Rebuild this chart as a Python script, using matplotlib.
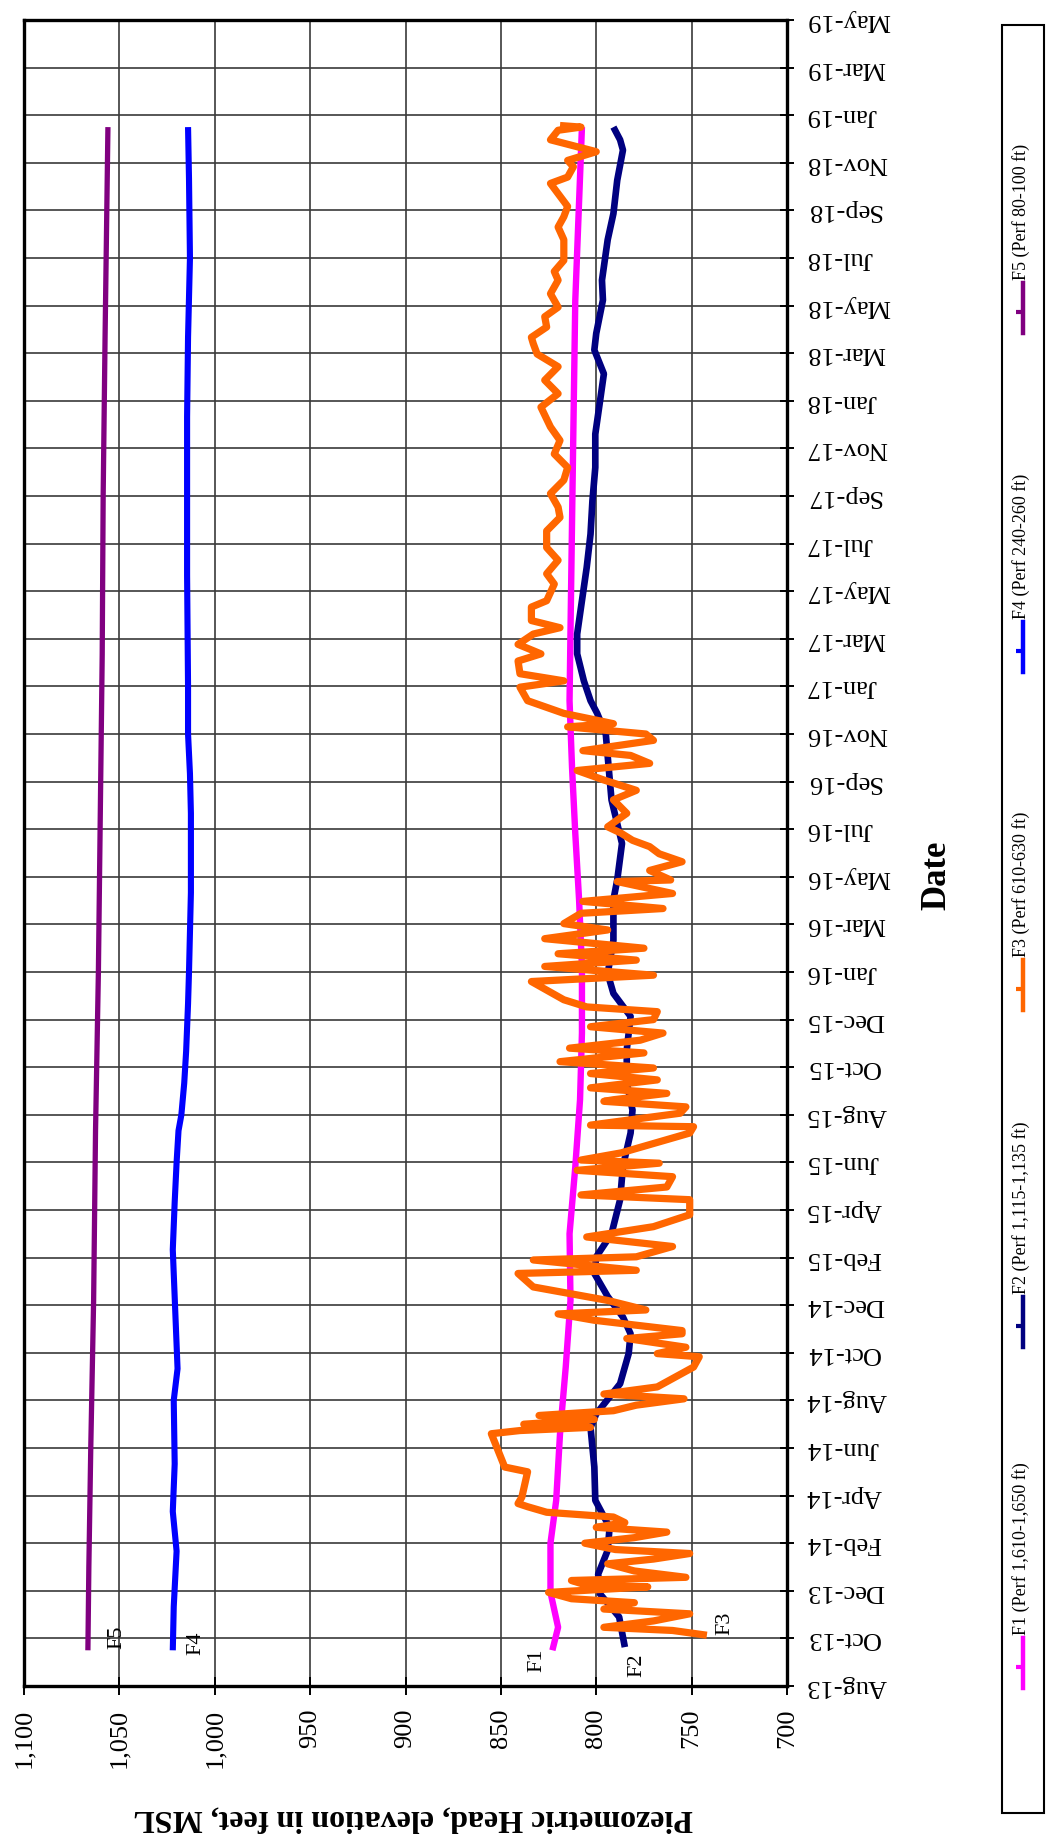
import matplotlib
matplotlib.use("Agg")
import matplotlib.pyplot as plt
from matplotlib.lines import Line2D
from matplotlib.patches import Rectangle

plt.rcParams['font.family'] = ['Liberation Serif', 'DejaVu Serif']

# ---------------- data ----------------
# time axis: days after 13-Aug-2013, one tick every 60 days
date_tick_labels = ["Aug-13", "Oct-13", "Dec-13", "Feb-14", "Apr-14", "Jun-14", "Aug-14",
                    "Oct-14", "Dec-14", "Feb-15", "Apr-15", "Jun-15", "Aug-15", "Oct-15",
                    "Dec-15", "Jan-16", "Mar-16", "May-16", "Jul-16", "Sep-16", "Nov-16",
                    "Jan-17", "Mar-17", "May-17", "Jul-17", "Sep-17", "Nov-17", "Jan-18",
                    "Mar-18", "May-18", "Jul-18", "Sep-18", "Nov-18", "Jan-19", "Mar-19",
                    "May-19"]
date_tick_days = [60 * i for i in range(len(date_tick_labels))]
elev_ticks = [1100, 1050, 1000, 950, 900, 850, 800, 750, 700]
elev_tick_labels = ["1,100", "1,050", "1,000", "950", "900", "850", "800", "750", "700"]

series_names = ["F1 (Perf 1,610-1,650 ft)", "F2 (Perf 1,115-1,135 ft)",
                "F3 (Perf 610-630 ft)", "F4 (Perf 240-260 ft)", "F5 (Perf 80-100 ft)"]
series_short = ["F1", "F2", "F3", "F4", "F5"]
series_colors = ["#FF00FF", "#000080", "#FF6600", "#0000FF", "#800080"]

f1_days = [45, 74, 118, 180, 234, 318, 402, 486, 570, 654, 739, 823, 907, 991, 1075,
           1158, 1242, 1330, 1500, 1746, 1965]
f1_vals = [823, 820, 824, 824, 821, 819, 816, 813.5, 814, 811, 808.5, 807.5, 807.5, 809,
           811, 812.7, 814, 813.5, 812.5, 811, 807.5]

f2_days = [49, 87, 116, 141, 171, 200, 234, 276, 326, 343, 381, 419, 444, 465, 491, 520,
           541, 570, 613, 655, 697, 726, 760, 802, 844, 873, 898, 940, 991, 1016, 1062,
           1117, 1158, 1200, 1226, 1242, 1267, 1301, 1326, 1368, 1410, 1452, 1494, 1536,
           1578, 1620, 1654, 1684, 1705, 1747, 1772, 1823, 1856, 1898, 1936, 1949, 1965]
f2_vals = [785, 788, 798, 799, 794, 793, 800.5, 801, 803, 800, 787.5, 783, 782, 786, 794,
           801, 800, 792, 787.5, 786, 782, 781, 784, 784, 782, 791, 794, 791, 791, 789,
           786.5, 792, 793.5, 795, 799.5, 803, 806.5, 810, 810, 807.5, 805, 803, 802,
           800.5, 800.5, 798, 796, 801, 800, 796.5, 797, 794, 791, 789, 786, 787.5, 791]

f3_days = [64, 70, 74, 82, 91, 97, 105, 110, 118, 125, 127, 133, 137, 145, 154, 160, 167,
           172, 180, 187, 194, 200, 206, 213, 219, 226, 230, 238, 270, 276, 300, 318, 322,
           326, 330, 336, 341, 347, 354, 362, 368, 377, 402, 415, 419, 427, 438, 444, 448,
           461, 469, 474, 486, 503, 520, 524, 537, 541, 554, 566, 579, 594, 613, 619, 629,
           642, 650, 659, 663, 672, 697, 705, 707, 722, 730, 737, 739, 747, 754, 764, 772,
           779, 787, 798, 804, 814, 823, 831, 840, 850, 856, 865, 888, 896, 907, 915, 923,
           930, 942, 953, 961, 974, 980, 989, 999, 1014, 1016, 1028, 1039, 1049, 1058,
           1066, 1075, 1083, 1100, 1117, 1129, 1142, 1154, 1163, 1173, 1179, 1192, 1200,
           1209, 1213, 1226, 1242, 1259, 1267, 1276, 1292, 1301, 1313, 1326, 1334, 1343,
           1360, 1368, 1389, 1402, 1419, 1435, 1456, 1473, 1486, 1503, 1520, 1536, 1553,
           1570, 1587, 1612, 1629, 1646, 1663, 1679, 1692, 1700, 1713, 1726, 1738, 1755,
           1772, 1783, 1797, 1823, 1839, 1852, 1865, 1881, 1894, 1902, 1915, 1923, 1934,
           1949, 1961, 1965, 1967]
f3_vals = [742, 760, 796, 770, 751, 796, 780, 813, 825, 773, 805, 813, 753, 780, 794, 770,
           751, 790, 806, 780, 763, 800, 785, 791, 826, 836, 841, 839, 836, 848, 852, 855,
           840, 803, 838, 801, 830, 791, 779, 754, 796, 768, 749, 746, 768, 753, 784, 755,
           755, 801, 820, 774, 794, 833, 841, 779, 833, 779, 760, 805, 770, 751, 751, 808,
           763, 760, 810, 767, 808, 787, 751, 749, 803, 756, 753, 796, 791, 763, 803, 768,
           803, 770, 819, 775, 814, 777, 765, 803, 770, 768, 805, 817, 834, 770, 827, 779,
           820, 775, 827, 794, 817, 808, 765, 807, 760, 789, 761, 772, 755, 767, 772, 781,
           787, 794, 784, 791, 779, 796, 810, 772, 782, 807, 770, 774, 815, 791, 817, 836,
           840, 817, 840, 841, 829, 841, 833, 819, 834, 834, 826, 822, 826, 820, 826, 826,
           819, 820, 824, 817, 815, 822, 819, 824, 829, 820, 827, 820, 831, 833, 834, 826,
           827, 820, 824, 820, 822, 817, 817, 820, 817, 815, 820, 824, 815, 812, 815, 800,
           824, 820, 808, 819]

f4_days = [45, 100, 170, 220, 280, 360, 400, 430, 490, 550, 610, 660, 700, 720, 760, 800,
           860, 900, 1000, 1100, 1150, 1200, 1260, 1400, 1600, 1700, 1800, 1900, 1965]
f4_vals = [1022, 1021.5, 1020, 1022, 1021, 1021.5, 1019.5, 1020, 1021, 1022, 1021, 1020,
           1019, 1017.5, 1016, 1015, 1014, 1013.5, 1012.5, 1012.5, 1013, 1014, 1014,
           1014.5, 1014.5, 1014, 1013, 1013.5, 1014]

f5_days = [45, 150, 300, 486, 700, 900, 1100, 1300, 1500, 1700, 1965]
f5_vals = [1066.5, 1066, 1065, 1063.5, 1062.5, 1061, 1060, 1059, 1058.5, 1057.5, 1056]

series_days = [f1_days, f2_days, f3_days, f4_days, f5_days]
series_vals = [f1_vals, f2_vals, f3_vals, f4_vals, f5_vals]

# ---------------- figure ----------------
W, H = 1047, 1839
fig = plt.figure(figsize=(W / 100, H / 100), dpi=100)

def fx(px):
    return px / W

def fy(py):
    return 1 - py / H

ax_l, ax_r, ax_t, ax_b = 24, 787, 20, 1686
ax = fig.add_axes([fx(ax_l), fy(ax_b), fx(ax_r - ax_l), (ax_b - ax_t) / H])

widths = [4.6, 4.8, 5.2, 4.4, 3.8]
for d, v, c, lw in zip(series_days, series_vals, series_colors, widths):
    ax.plot(v, d, color=c, lw=lw, solid_joinstyle='round', solid_capstyle='butt', zorder=3)

ax.set_xlim(1100, 700)
ax.set_ylim(0, 2100)
ax.set_xticks(elev_ticks)
ax.set_xticklabels(elev_tick_labels, rotation=90, va='top', ha='center')
ax.set_yticks(date_tick_days)
ax.yaxis.tick_right()
ax.set_yticklabels(date_tick_labels, rotation=180, va='center', ha='left')

ax.tick_params(axis='x', direction='inout', length=13, width=1.4, pad=10, labelsize=19)
ax.tick_params(axis='y', direction='inout', length=10, width=1.4, pad=9, labelsize=19,
               right=True, left=False)
ax.grid(True, color='#3a3a3a', lw=1.2, zorder=1)
for s in ax.spines.values():
    s.set_linewidth(2.4)
    s.set_color('black')

# series labels next to starting points
label_pos = {"F1": (537, 1660), "F2": (637, 1665), "F3": (725, 1623),
             "F4": (196, 1643), "F5": (117, 1637)}
for name in series_short:
    x, y = label_pos[name]
    fig.text(fx(x), fy(y), name, rotation=90, ha='center', va='center', fontsize=16)

# axis titles
fig.text(fx(413), fy(1818), "Piezometric Head, elevation in feet, MSL", rotation=180,
         ha='center', va='center', fontsize=23, fontweight='bold')
fig.text(fx(937), fy(875), "Date", rotation=90, ha='center', va='center',
         fontsize=25, fontweight='bold')

# legend (rotated)
fig.patches.append(Rectangle((fx(1002), fy(1813)), fx(1044 - 1002), (1813 - 25) / H,
                             transform=fig.transFigure, fill=False, ec='black', lw=1.5))
leg_centers = [1663, 1322, 985, 647, 308]
for name, c, yc in zip(series_names, series_colors, leg_centers):
    fig.lines.append(Line2D([fx(1023), fx(1023)], [fy(yc + 25), fy(yc - 25)],
                            transform=fig.transFigure, color=c, lw=3.2))
    fig.lines.append(Line2D([fx(1023)], [fy(yc + 4)], transform=fig.transFigure,
                            color=c, marker=0, ms=5, mew=3))
    fig.text(fx(1021), fy(yc - 28), name, rotation=90, ha='center', va='bottom',
             fontsize=13)

fig.savefig("out.png", dpi=100)
